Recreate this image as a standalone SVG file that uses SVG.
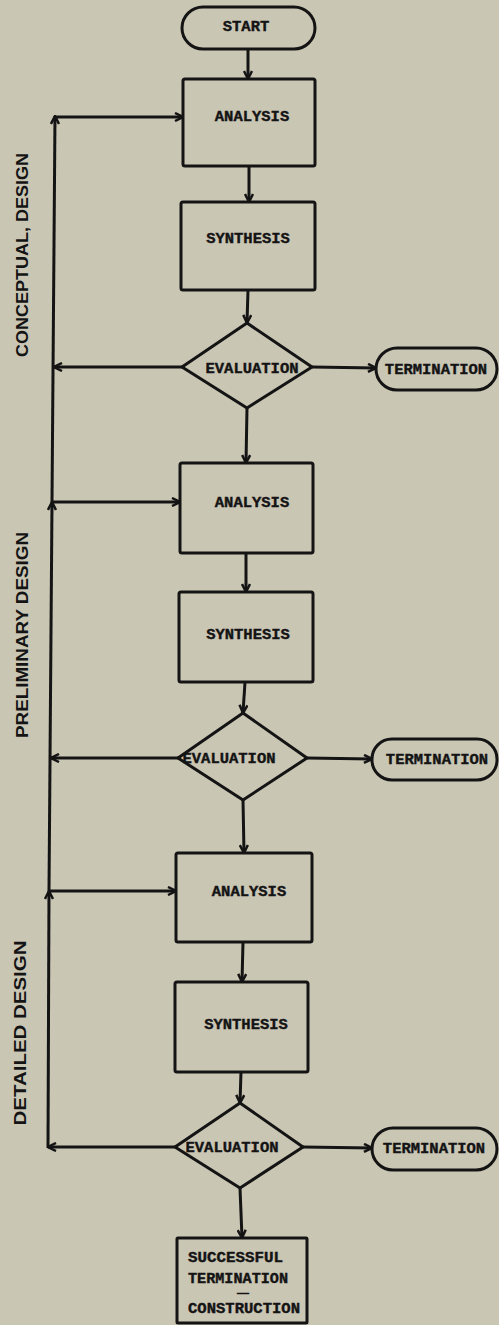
<svg xmlns="http://www.w3.org/2000/svg" width="499" height="1325" viewBox="0 0 499 1325">
<style>
.bg{fill:#cac6b4}
.shape{fill:none;stroke:#141414;stroke-width:3;stroke-linejoin:round}
.line{fill:none;stroke:#141414;stroke-width:3}
.arrow{marker-end:url(#ah)}
.t{font-family:"Liberation Mono","DejaVu Sans Mono",monospace;font-weight:bold;font-size:15.5px;fill:#141414;stroke:#141414;stroke-width:0.4;text-anchor:middle;dominant-baseline:central}
.tl{font-family:"Liberation Mono","DejaVu Sans Mono",monospace;font-weight:bold;font-size:14.5px;fill:#141414;stroke:#141414;stroke-width:0.4;dominant-baseline:central}
.dash{font-family:"Liberation Mono","DejaVu Sans Mono",monospace;font-weight:bold;font-size:9px;fill:#141414;stroke:#141414;stroke-width:0.6;text-anchor:middle;dominant-baseline:central}
.side{font-family:"Liberation Sans",Arial,sans-serif;font-weight:bold;font-size:16px;fill:#141414;text-anchor:middle;dominant-baseline:central}
</style>
<defs>
<marker id="ah" viewBox="0 0 10 10" refX="9" refY="5" markerWidth="10" markerHeight="10" markerUnits="userSpaceOnUse" orient="auto">
<path d="M1,1 L9,5 L1,9" fill="none" stroke="#141414" stroke-width="2.5"/>
</marker>
</defs>
<rect class="bg" x="0" y="0" width="499" height="1325"/>

<g id="labels">
<text class="side" transform="translate(22,255) rotate(-90)" textLength="204" lengthAdjust="spacingAndGlyphs">CONCEPTUAL, DESIGN</text>
<text class="side" transform="translate(22,635) rotate(-90)" textLength="206" lengthAdjust="spacingAndGlyphs">PRELIMINARY DESIGN</text>
<text class="side" transform="translate(20,1033) rotate(-90)" textLength="185" lengthAdjust="spacingAndGlyphs">DETAILED DESIGN</text>
</g>

<g id="connectors">
<line class="line arrow" x1="248" y1="49" x2="248" y2="79"/>
<line class="line arrow" x1="249" y1="166" x2="249" y2="202"/>
<line class="line arrow" x1="248" y1="290" x2="247" y2="323"/>
<line class="line arrow" x1="312" y1="367" x2="376" y2="368"/>
<line class="line arrow" x1="182" y1="367" x2="54" y2="367"/>
<line class="line arrow" x1="247" y1="408" x2="246" y2="463"/>
<line class="line arrow" x1="55" y1="117" x2="183" y2="117"/>
<line class="line arrow" x1="246" y1="553" x2="246" y2="592"/>
<line class="line arrow" x1="245" y1="682" x2="243" y2="713"/>
<line class="line arrow" x1="307" y1="758" x2="372" y2="759"/>
<line class="line arrow" x1="178" y1="758" x2="51" y2="758"/>
<line class="line arrow" x1="52" y1="502" x2="180" y2="502"/>
<line class="line arrow" x1="243" y1="800" x2="244" y2="853"/>
<line class="line arrow" x1="243" y1="942" x2="242" y2="982"/>
<line class="line arrow" x1="241" y1="1072" x2="240" y2="1103"/>
<line class="line arrow" x1="303" y1="1147" x2="372" y2="1148"/>
<line class="line arrow" x1="175" y1="1147" x2="48" y2="1147"/>
<line class="line arrow" x1="49" y1="891" x2="176" y2="891"/>
<line class="line arrow" x1="240" y1="1188" x2="242" y2="1238"/>
<line class="line arrow" x1="48" y1="1148" x2="49" y2="891"/>
<line class="line arrow" x1="49" y1="891" x2="52" y2="502"/>
<line class="line arrow" x1="52" y1="502" x2="55" y2="116"/>
</g>

<g id="start">
<rect class="shape" x="182" y="7" width="133" height="42" rx="21"/>
<text class="t" x="246" y="27">START</text>
</g>

<g id="analysis1">
<rect class="shape" x="183" y="79" width="132" height="87" rx="2"/>
<text class="t" x="252" y="117">ANALYSIS</text>
</g>
<g id="synthesis1">
<rect class="shape" x="181" y="202" width="134" height="88" rx="2"/>
<text class="t" x="248" y="239">SYNTHESIS</text>
</g>
<g id="evaluation1">
<polygon class="shape" points="247,323 312,367 247,408 182,367"/>
<text class="t" x="252" y="369">EVALUATION</text>
</g>
<g id="termination1">
<rect class="shape" x="376" y="348" width="121" height="42" rx="21"/>
<text class="t" x="436" y="370">TERMINATION</text>
</g>

<g id="analysis2">
<rect class="shape" x="180" y="463" width="133" height="90" rx="2"/>
<text class="t" x="252" y="503">ANALYSIS</text>
</g>
<g id="synthesis2">
<rect class="shape" x="179" y="592" width="134" height="90" rx="2"/>
<text class="t" x="248" y="635">SYNTHESIS</text>
</g>
<g id="evaluation2">
<polygon class="shape" points="243,713 307,758 243,800 178,758"/>
<text class="t" x="229" y="759">EVALUATION</text>
</g>
<g id="termination2">
<rect class="shape" x="372" y="739" width="125" height="41" rx="20"/>
<text class="t" x="437" y="760">TERMINATION</text>
</g>

<g id="analysis3">
<rect class="shape" x="176" y="853" width="136" height="89" rx="2"/>
<text class="t" x="249" y="892">ANALYSIS</text>
</g>
<g id="synthesis3">
<rect class="shape" x="175" y="982" width="133" height="90" rx="2"/>
<text class="t" x="246" y="1025">SYNTHESIS</text>
</g>
<g id="evaluation3">
<polygon class="shape" points="240,1103 303,1147 240,1188 175,1147"/>
<text class="t" x="232" y="1148">EVALUATION</text>
</g>
<g id="termination3">
<rect class="shape" x="372" y="1128" width="125" height="42" rx="21"/>
<text class="t" x="434" y="1149">TERMINATION</text>
</g>

<g id="final">
<rect class="shape" x="177" y="1238" width="130" height="85" rx="1"/>
<text class="tl" x="188" y="1258" textLength="95" lengthAdjust="spacingAndGlyphs">SUCCESSFUL</text>
<text class="tl" x="188" y="1279" textLength="100" lengthAdjust="spacingAndGlyphs">TERMINATION</text>
<text class="dash" x="243" y="1294" textLength="11" lengthAdjust="spacingAndGlyphs">—</text>
<text class="tl" x="188" y="1309" textLength="112" lengthAdjust="spacingAndGlyphs">CONSTRUCTION</text>
</g>
</svg>
